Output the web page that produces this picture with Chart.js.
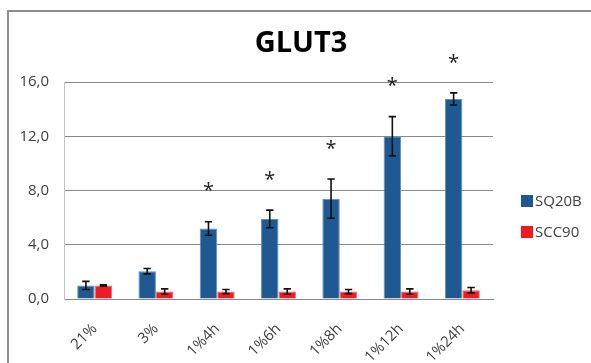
<!DOCTYPE html>
<html>
<head>
<meta charset="utf-8">
<script src="https://cdn.jsdelivr.net/npm/chart.js@4.4.1/dist/chart.umd.min.js"></script>
<style>
    html, body { margin: 0; padding: 0; background: #ffffff; }
    #wrap { position: relative; width: 591px; height: 363px; }
</style>
</head>
<body>
<div id="wrap"><canvas id="glutChart"></canvas></div>
<script>
// GLUT3 expression, relative to 21% O2
const chartTitle = 'GLUT3';
const conditions = ['21%', '3%', '1%4h', '1%6h', '1%8h', '1%12h', '1%24h'];

const sq20bValues = [1.0, 2.05, 5.2, 5.9, 7.4, 12.0, 14.75];
const sq20bErrors = [0.3, 0.2, 0.5, 0.65, 1.45, 1.45, 0.45];
const sq20bSignificant = [false, false, true, true, true, true, true];

const scc90Values = [1.0, 0.55, 0.55, 0.55, 0.55, 0.55, 0.65];
const scc90Errors = [0.05, 0.2, 0.15, 0.2, 0.15, 0.2, 0.2];

const yTicks = [0, 4, 8, 12, 16];

const FONT = "'Open Sans', 'Liberation Sans', sans-serif";
const TEXT = '#404040';

// frame round the chart object
const framePlugin = {
    id: 'frame',
    beforeDraw(chart) {
        const c = chart.ctx;
        c.save();
        c.strokeStyle = '#8e8e8e';
        c.lineWidth = 2;
        c.beginPath();
        c.moveTo(8, chart.height);
        c.lineTo(8, 11);
        c.lineTo(chart.width, 11);
        c.stroke();
        c.restore();
    }
};

// error bars on every bar, plus significance stars over SQ20B
const errorBarPlugin = {
    id: 'errorBars',
    afterDatasetsDraw(chart) {
        const c = chart.ctx;
        const y = chart.scales.y;
        c.save();
        chart.data.datasets.forEach((ds, di) => {
            const meta = chart.getDatasetMeta(di);
            meta.data.forEach((bar, i) => {
                const v = ds.data[i];
                const e = ds.errors[i];
                const top = y.getPixelForValue(v + e);
                const bottom = y.getPixelForValue(v - e);
                c.strokeStyle = '#111111';
                c.lineWidth = 1.6;
                c.beginPath();
                c.moveTo(bar.x, top);
                c.lineTo(bar.x, bottom);
                c.moveTo(bar.x - 3.7, top);
                c.lineTo(bar.x + 3.7, top);
                c.moveTo(bar.x - 3.7, bottom);
                c.lineTo(bar.x + 3.7, bottom);
                c.stroke();

                if (ds.significant && ds.significant[i]) {
                    c.fillStyle = '#222222';
                    c.font = '20px ' + FONT;
                    c.textAlign = 'center';
                    c.textBaseline = 'middle';
                    c.fillText('*', bar.x, top - 30);
                }
            });
        });
        c.restore();
    }
};

// title and legend
const labelsPlugin = {
    id: 'labels',
    afterDraw(chart) {
        const c = chart.ctx;
        c.save();
        c.fillStyle = '#000000';
        c.font = 'bold 29px ' + FONT;
        c.textAlign = 'center';
        c.textBaseline = 'middle';
        c.fillText(chartTitle, 301, 44);

        c.font = '15px ' + FONT;
        c.textAlign = 'left';
        chart.data.datasets.forEach((ds, i) => {
            const cy = 201 + i * 31;
            c.fillStyle = ds.backgroundColor;
            c.fillRect(521, cy - 6, 12, 12);
            c.fillStyle = TEXT;
            c.fillText(ds.label, 535, cy + 1);
        });
        c.restore();
    }
};

function initializeGlutChart() {
    const ctx = document.getElementById('glutChart');
    if (!ctx) return;

    new Chart(ctx, {
        type: 'bar',
        data: {
            labels: conditions,
            datasets: [{
                label: 'SQ20B',
                data: sq20bValues,
                errors: sq20bErrors,
                significant: sq20bSignificant,
                backgroundColor: '#1e5a91',
                borderColor: '#5e8ebd',
                borderWidth: 1,
                categoryPercentage: 0.57,
                barPercentage: 1.0
            }, {
                label: 'SCC90',
                data: scc90Values,
                errors: scc90Errors,
                backgroundColor: '#ed1c24',
                borderColor: '#f4676c',
                borderWidth: 1,
                categoryPercentage: 0.57,
                barPercentage: 1.0
            }]
        },
        options: {
            responsive: false,
            animation: false,
            layout: {
                padding: { top: 82, bottom: 0, left: 0, right: 98 }
            },
            plugins: {
                legend: { display: false },
                title: { display: false },
                tooltip: { enabled: false }
            },
            scales: {
                x: {
                    grid: { display: false },
                    border: { display: true, color: '#8a8a8a', width: 1 },
                    ticks: {
                        color: TEXT,
                        font: { family: FONT, size: 15 },
                        minRotation: 45,
                        maxRotation: 45,
                        padding: 13
                    },
                    afterFit(scale) { scale.height = 64; }
                },
                y: {
                    min: 0,
                    max: 16,
                    afterBuildTicks(scale) {
                        scale.ticks = yTicks.map(v => ({ value: v }));
                    },
                    grid: { color: '#8a8a8a', lineWidth: 1, drawTicks: false },
                    border: { display: true, color: '#c4c4c4', width: 1 },
                    ticks: {
                        color: TEXT,
                        font: { family: FONT, size: 15 },
                        padding: 15,
                        callback: (value) => value.toFixed(1).replace('.', ',')
                    },
                    afterFit(scale) { scale.width = 64; }
                }
            }
        },
        plugins: [framePlugin, errorBarPlugin, labelsPlugin]
    });
}

document.addEventListener('DOMContentLoaded', function () {
    const canvas = document.getElementById('glutChart');
    canvas.width = 591;
    canvas.height = 363;
    initializeGlutChart();
});
</script>
</body>
</html>
